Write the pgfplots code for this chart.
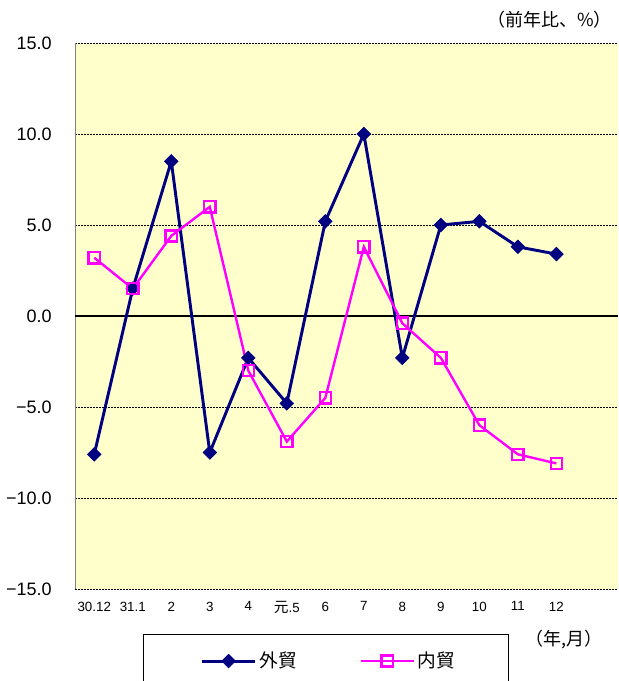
\documentclass[border=0pt]{standalone}
\usepackage{fontspec}
\setmainfont{Liberation Sans}
\newfontfamily\cjk{Noto Sans CJK JP}
\usepackage{pgfplots}
\pgfplotsset{compat=1.18}
\definecolor{bg}{HTML}{FFFFCC}
\definecolor{navyline}{HTML}{000080}
\definecolor{pinkline}{HTML}{FF00FF}

\begin{document}
\begin{tikzpicture}
% 1px = 0.75pt, page 618x681 px
\path[use as bounding box] (0,0) rectangle (463.5pt,510.75pt);
\begin{axis}[
    at={(56.25pt,69pt)}, anchor=south west,
    scale only axis,
    width=407.25pt, height=409.5pt,
    xmin=-0.5, xmax=13.6,
    ymin=-15, ymax=15,
    xtick={0,...,12},
    xticklabels={30.12,31.1,2,3,4,{{\cjk\fontsize{11}{12}\selectfont 元}.5},6,7,8,9,10,11,12},
    ytick={-15,-10,-5,0,5,10,15},
    yticklabels={−15.0,−10.0,−5.0,0.0,5.0,10.0,15.0},
    major tick length=0pt,
    axis line style={draw=none},
    axis background/.style={fill=bg},
    ymajorgrids,
    major grid style={black, line width=0.6pt, dash pattern=on 1.5pt off 0.75pt},
    yticklabel style={font=\fontsize{13.5}{14}\selectfont, xshift=-14pt},
    xticklabel style={font=\fontsize{10}{11}\selectfont, yshift=-6pt},
    clip=false,
    legend columns=2,
    legend style={draw=none, fill=none, at={(0.468,-0.132)}, anchor=center,
        font=\cjk\fontsize{14}{15}\selectfont,
        /tikz/every even column/.append style={column sep=45pt}},
    legend image code/.code={
        \draw[#1,mark repeat=2,mark phase=2] plot coordinates {(0pt,0pt) (20pt,0pt) (40pt,0pt)};
    },
]
\draw[gray, line width=0.75pt] (axis cs:-0.5,-15) -- (axis cs:-0.5,15);
\draw[black, line width=1.9pt] (axis cs:-0.5,0) -- (axis cs:13.6,0);
\addplot[navyline, line width=2.2pt, mark=square*, mark size=3.6pt,
    mark options={rotate=45, solid, fill=navyline, line width=0.5pt}] coordinates {
    (0,-7.6) (1,1.5) (2,8.5) (3,-7.5) (4,-2.3) (5,-4.8) (6,5.2)
    (7,10.0) (8,-2.3) (9,5.0) (10,5.2) (11,3.8) (12,3.4)};
\addplot[pinkline, line width=1.8pt, mark=square, mark size=4.2pt,
    mark options={solid, fill=none}] coordinates {
    (0,3.2) (1,1.5) (2,4.4) (3,6.0) (4,-3.0) (5,-6.9) (6,-4.5)
    (7,3.8) (8,-0.4) (9,-2.3) (10,-6.0) (11,-7.6) (12,-8.1)};
\legend{外貿,内貿}
\end{axis}
\node[anchor=east, font=\cjk\fontsize{13.5}{14}\selectfont, inner sep=0pt] at (459pt,495.75pt) {（前年比、\%）};
\node[anchor=east, font=\cjk\fontsize{13.5}{14}\selectfont, inner sep=0pt] at (452pt,30.75pt) {（年,月）};
\draw[black, line width=0.75pt] (107.25pt,-5pt) rectangle (381pt,34.5pt);
\end{tikzpicture}
\end{document}
